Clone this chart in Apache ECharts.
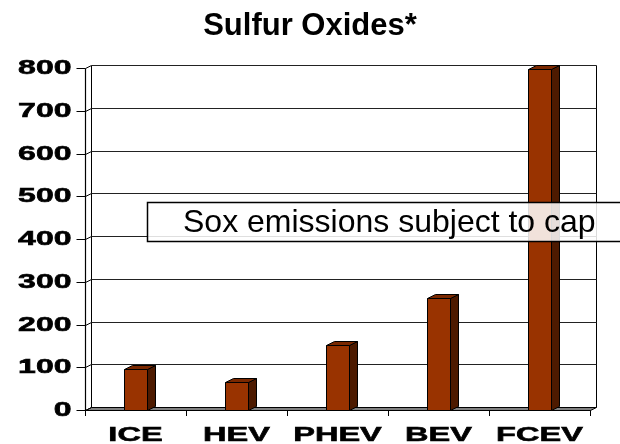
<!DOCTYPE html>
<html>
<head>
<meta charset="utf-8">
<script src="https://cdn.jsdelivr.net/npm/echarts@6/dist/echarts.min.js"></script>
<style>html,body{margin:0;padding:0;background:#fff}#c{width:620px;height:444px}</style>
</head>
<body>
<div id="c"></div>
<script>
const chartTitle = 'Sulfur Oxides*';
const categories = ['ICE', 'HEV', 'PHEV', 'BEV', 'FCEV'];
const sulfurOxides = [96, 66, 151, 263, 798];
const yTickValues = [0, 100, 200, 300, 400, 500, 600, 700, 800];
const yTickLabels = ['0', '100', '200', '300', '400', '500', '600', '700', '800'];
const annotationText = 'Sox emissions subject to cap';

const FONT = '"Liberation Sans", Arial, sans-serif';
const DXW = 6, DYW = 3;   // wall depth
const DXB = 8, DYB = 4;   // bar depth

const chart = echarts.init(document.getElementById('c'), null, {renderer: 'canvas'});

function ln(x1, y1, x2, y2, color, w) {
  return {type: 'line', shape: {x1: x1, y1: y1, x2: x2, y2: y2},
          style: {stroke: color || '#000', lineWidth: w || 1}};
}

const option = {
  animation: false,
  backgroundColor: '#fff',
  title: {
    text: chartTitle, left: 'center', top: 6,
    textStyle: {fontSize: 31, fontWeight: 'bold', fontFamily: FONT, color: '#000'}
  },
  grid: {left: 85, right: 30, top: 68, bottom: 34, containLabel: false},
  xAxis: {
    type: 'category', data: categories, boundaryGap: true,
    axisLine: {show: false},
    axisTick: {show: true, length: 6, lineStyle: {color: '#000', width: 1}},
    axisLabel: {show: false},
    splitLine: {show: false}
  },
  yAxis: {
    type: 'value', min: 0, max: 800, interval: 100,
    axisLine: {show: false}, axisTick: {show: false},
    axisLabel: {show: false}, splitLine: {show: false}
  },
  series: [
    { // floor and walls
      type: 'custom', z: 1, silent: true, data: [[0, 0]],
      renderItem: function (params, api) {
        const cs = params.coordSys;
        const x0 = Math.round(cs.x) + 0.5, x1 = Math.round(cs.x + cs.width) + 0.5;
        const yb = Math.round(cs.y + cs.height) + 0.5, yt = Math.round(cs.y) + 0.5;
        return {type: 'group', children: [
          {type: 'polygon', shape: {points: [[x0, yb], [x1, yb], [x1 + DXW, yb - DYW], [x0 + DXW, yb - DYW]]},
           style: {fill: '#808080', stroke: '#000', lineWidth: 1}},
          ln(x0, yb, x0, yt, '#000', 1.2),
          ln(x0 + DXW, yb - DYW, x0 + DXW, yt - DYW, '#000', 1),
          ln(x1 + DXW, yb - DYW, x1 + DXW, yt - DYW, '#000', 1)
        ]};
      }
    },
    { // y ticks, gridlines on back wall and labels
      type: 'custom', z: 2, silent: true,
      data: yTickValues.map(function (v, i) { return [0, v, i]; }),
      renderItem: function (params, api) {
        const cs = params.coordSys;
        const v = api.value(1);
        const i = api.value(2);
        const y = Math.round(api.coord([0, v])[1]) + 0.5;
        const x0 = Math.round(cs.x) + 0.5, x1 = Math.round(cs.x + cs.width) + 0.5;
        const kids = [
          ln(x0 - 9, y, x0, y, '#000', 1),
          ln(x0, y, x0 + DXW, y - DYW, '#000', 1)
        ];
        if (v > 0) kids.push(ln(x0 + DXW, y - DYW, x1 + DXW, y - DYW, '#222', 1));
        kids.push({
          type: 'text', x: x0 - 14, y: y, scaleX: 1.6, scaleY: 1,
          style: {text: yTickLabels[i], fill: '#000', font: 'bold 20px ' + FONT,
                  align: 'right', verticalAlign: 'middle',
                  textAlign: 'right', textVerticalAlign: 'middle',
                  stroke: '#000', lineWidth: 0.6}
        });
        return {type: 'group', children: kids};
      }
    },
    { // x labels
      type: 'custom', z: 2, silent: true,
      data: categories.map(function (c, i) { return [i, 0]; }),
      renderItem: function (params, api) {
        const i = api.value(0);
        const p = api.coord([i, 0]);
        return {
          type: 'text', x: p[0], y: p[1] + 25, scaleX: 1.55, scaleY: 1,
          style: {text: categories[i], fill: '#000', font: 'bold 21px ' + FONT,
                  align: 'center', verticalAlign: 'middle',
                  textAlign: 'center', textVerticalAlign: 'middle',
                  stroke: '#000', lineWidth: 0.6}
        };
      }
    },
    { // 3D bars
      type: 'custom', z: 5,
      data: sulfurOxides.map(function (v, i) { return [i, v]; }),
      renderItem: function (params, api) {
        const i = api.value(0), v = api.value(1);
        const top = api.coord([i, v]);
        const base = api.coord([i, 0]);
        const bw = api.size([1, 0])[0] * 0.23;
        const xl = Math.round(top[0] - bw / 2) + 0.5, xr = Math.round(top[0] + bw / 2) + 0.5;
        const yt = Math.round(top[1]) + 0.5, yb = Math.round(base[1]) + 0.5;
        const st = {stroke: '#000', lineWidth: 1};
        return {type: 'group', children: [
          {type: 'polygon', shape: {points: [[xr, yt], [xr + DXB, yt - DYB], [xr + DXB, yb - DYB], [xr, yb]]},
           style: Object.assign({fill: '#4d1a00'}, st)},
          {type: 'polygon', shape: {points: [[xl, yt], [xl + DXB, yt - DYB], [xr + DXB, yt - DYB], [xr, yt]]},
           style: Object.assign({fill: '#7a2800'}, st)},
          {type: 'rect', shape: {x: xl, y: yt, width: xr - xl, height: yb - yt},
           style: Object.assign({fill: '#993300'}, st)}
        ]};
      }
    }
  ],
  graphic: [
    {type: 'rect', zlevel: 1, z: 100, shape: {x: 147.5, y: 202.5, width: 520, height: 39},
     style: {fill: 'rgba(255,255,255,0.86)', stroke: '#000', lineWidth: 1.5}},
    {type: 'text', zlevel: 1, z: 101, x: 183, y: 223,
     style: {text: annotationText, fill: '#000', font: '32px ' + FONT,
             verticalAlign: 'middle', textVerticalAlign: 'middle'}}
  ]
};
chart.setOption(option);
</script>
</body>
</html>
